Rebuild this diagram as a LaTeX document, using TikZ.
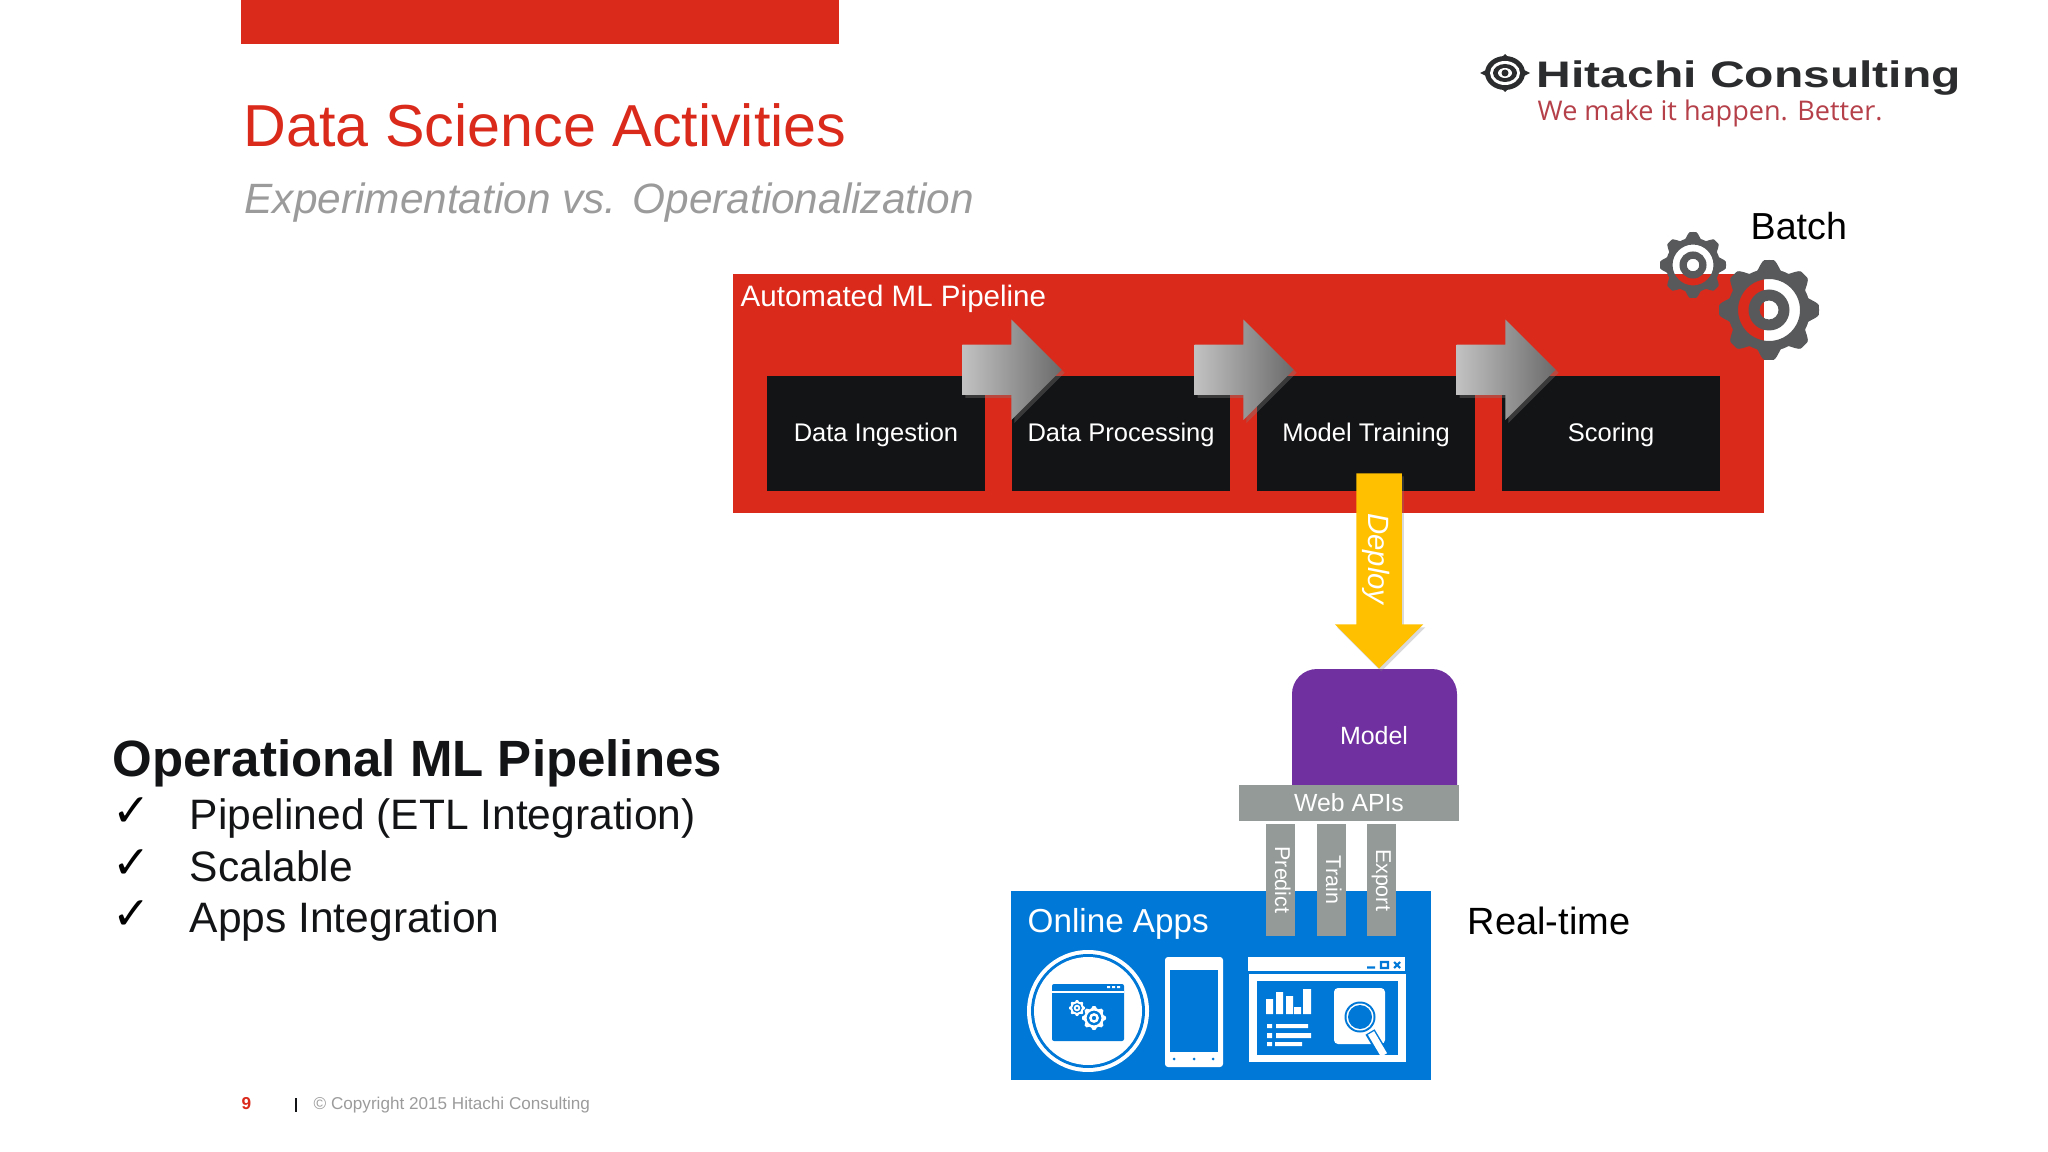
\documentclass[tikz,border=0pt]{standalone}
\usepackage{fontspec}
\setmainfont{Liberation Sans}
\newfontfamily\checkfont{DejaVu Sans}
\newfontfamily\tagfont{Open Sans}
\usepackage{xcolor}
\usepackage{tikz}
\usetikzlibrary{calc,positioning,shapes.arrows,shadows}
\definecolor{hcred}{HTML}{DA2A1C}
\definecolor{inkblack}{HTML}{131416}
\definecolor{apigrey}{HTML}{939A98}
\definecolor{geargrey}{HTML}{58595B}
\definecolor{appblue}{HTML}{0078D7}
\definecolor{deployyellow}{HTML}{FFC000}
\definecolor{modelpurple}{HTML}{7030A0}
\definecolor{softgrey}{HTML}{9B9B9B}
\definecolor{tagred}{HTML}{B5404A}
\newcommand{\fsz}[1]{\fontsize{#1}{#1}\selectfont}
\newcommand{\gearshape}[4]{%
  \fill[#4,even odd rule] plot[domain=0:360,samples=193]
    ({#1+#3*(0.91+0.09*max(-1,min(1,1.5*cos(8*\x))))*cos(\x)},
     {#2+#3*(0.91+0.09*max(-1,min(1,1.5*cos(8*\x))))*sin(\x)}) -- cycle
    (#1,#2) circle[radius=0.62*#3]
    (#1,#2) circle[radius=0.41*#3]
    (#1,#2) circle[radius=0.19*#3];
}
\tikzset{
  lab/.style={inner sep=0pt, text=black},
  whitelab/.style={inner sep=0pt, text=white},
  pipebox/.style={fill=hcred, inner sep=0pt, minimum width=10.31cm, minimum height=2.39cm},
  stagebox/.style={fill=inkblack, text=white, inner sep=0pt, font=\fsz{7.25},
    text height=0.22cm, text depth=0.06cm, minimum width=2.18cm, minimum height=1.15cm},
  flowarrow/.style={single arrow, anchor=tail, inner xsep=0pt, inner ysep=0.245cm, minimum height=0.99cm,
    single arrow head extend=0.25cm, left color=black!24,
    right color=black!58, drop shadow={shadow xshift=0.03cm, shadow yshift=-0.03cm, opacity=0.35}},
  deployarrow/.style={single arrow, shape border rotate=270, anchor=tail, inner ysep=0pt, inner xsep=0.22cm,
    fill=deployyellow, minimum height=1.95cm,
    single arrow head extend=0.215cm,
    drop shadow={shadow xshift=0.02cm, shadow yshift=-0.03cm, opacity=0.3}},
  apibar/.style={fill=apigrey, text=white, rotate=-90, inner sep=0pt, font=\fsz{6.1},
    text height=0.15cm, text depth=0.04cm, minimum width=1.12cm, minimum height=0.29cm},
}

\begin{document}
\begin{tikzpicture}[x=0.01cm,y=-0.01cm]
  \useasboundingbox (0,0) rectangle (2048,1152);
  % header
  \fill[hcred] (241,0) rectangle (839,44);
  \node[lab,anchor=base west,text=hcred,font=\fsz{16.85}] (title) at (243,147) {Data Science Activities};
  \node[lab,anchor=base west,text=softgrey,font=\fsz{12.05}\itshape] (subtitle) at (244,214) {Experimentation vs. Operationalization};
  % logo
  \fill[inkblack!90] (1505,73) ellipse[x radius=20,y radius=17];
  \fill[inkblack!90] (1480,73) -- (1490,68) -- (1490,78) -- cycle (1530,73) -- (1520,68) -- (1520,78) -- cycle
    (1505,54) -- (1499,60) -- (1511,60) -- cycle (1505,92) -- (1499,86) -- (1511,86) -- cycle;
  \fill[white] (1505,73) ellipse[x radius=15,y radius=12];
  \fill[inkblack!90] (1505,73) ellipse[x radius=12,y radius=9];
  \fill[white] (1505,73) ellipse[x radius=7,y radius=5];
  \fill[inkblack!90] (1505,73) circle[radius=3.5];
  \node[lab,anchor=base west,text=inkblack!90,font=\fsz{10.5}\bfseries,xscale=1.3] (logotext) at (1536,88) {Hitachi Consulting};
  \node[lab,anchor=base west,text=tagred,font=\fsz{7.7}\tagfont] (tagline) at (1537,121) {We make it happen. Better.};
  % pipeline
  \node[pipebox] (pipeline) at (1248.5,393.5) {};
  \node[whitelab,anchor=base west,font=\fsz{8.4}] (pipelab) at (740,306.5) {Automated ML Pipeline};
  \node[stagebox] (ingest) at (876,433.5) {Data Ingestion};
  \node[stagebox,right=0.255cm of ingest] (processing) {Data Processing};
  \node[stagebox,right=0.255cm of processing] (training) {Model Training};
  \node[stagebox,right=0.255cm of training] (scoring) {Scoring};
  \node[flowarrow] (arrowA) at ($(ingest.north east)+(-24,-5.5)$) {};
  \node[flowarrow] (arrowB) at ($(processing.north east)+(-37,-5.5)$) {};
  \node[flowarrow] (arrowC) at ($(training.north east)+(-20,-5.5)$) {};
  % batch gears
  \gearshape{1693}{265}{33}{geargrey}
  \gearshape{1769}{310}{50}{geargrey}
  \node[lab,anchor=base west,font=\fsz{10.7}] (batch) at (1750,239.5) {Batch};
  % online apps
  \node[fill=appblue,inner sep=0pt,minimum width=4.2cm,minimum height=1.89cm] (apps) at (1221,985.5) {};
  \node[whitelab,anchor=base west,font=\fsz{9.45}] (appslab) at (1027,932) {Online Apps};
  \node[lab,anchor=base west,font=\fsz{10.8}] (realtime) at (1467,934) {Real-time};
  % circle icon
  \fill[white] (1088,1011) circle[radius=61];
  \fill[appblue] (1088,1011) circle[radius=57];
  \fill[white] (1088,1011) circle[radius=54];
  \fill[appblue,rounded corners=0.02cm] (1052,984) rectangle (1124,1041);
  \draw[white,line width=0.35pt] (1052,992) -- (1124,992);
  \fill[white] (1107,986) rectangle (1110,988) (1112,986) rectangle (1115,988) (1117,986) rectangle (1120,988);
  \gearshape{1077}{1008}{8}{white}
  \gearshape{1094}{1018}{12}{white}
  % phone icon
  \fill[white,rounded corners=0.03cm] (1165,957) rectangle (1223,1067);
  \fill[appblue] (1170,970) rectangle (1218,1052);
  \fill[appblue] (1174,1059) circle[radius=1.5] (1194,1059) circle[radius=1.5] (1213,1059) circle[radius=1.5];
  % window icon
  \fill[white] (1248,957) rectangle (1405,971);
  \fill[white] (1249,974) rectangle (1406,1062);
  \fill[appblue] (1257,981) rectangle (1398,1055);
  \draw[appblue,line width=0.6pt] (1367,967.5) -- (1375,967.5) (1381,962) rectangle (1388,968)
    (1394,962) -- (1400,968) (1400,962) -- (1394,968);
  \fill[white] (1266,999) rectangle (1273,1014) (1276,992) rectangle (1283,1014) (1286,996) rectangle (1293,1014)
    (1294,1007) rectangle (1301,1014) (1303,989) rectangle (1311,1014);
  \fill[white] (1267,1024) rectangle (1272,1028) (1276,1024) rectangle (1308,1028)
    (1267,1033) rectangle (1272,1038) (1276,1033) rectangle (1311,1038)
    (1267,1042) rectangle (1272,1046) (1275,1042) rectangle (1302,1046);
  \fill[white,rounded corners=0.04cm] (1334,988) rectangle (1385,1044);
  \draw[appblue,line width=3pt] (1370,1032) -- (1382,1052);
  \fill[appblue] (1360,1017) circle[radius=15.5];
  \fill[white] (1360,1017) circle[radius=13.5];
  \fill[appblue] (1360,1017) circle[radius=12];
  \draw[white,line width=2pt] (1371,1033) -- (1384,1055);
  % model and web apis
  \fill[modelpurple] (1292,785) [rounded corners=0.25cm] -- (1292,669) -- (1457,669) [sharp corners] -- (1457,785) -- cycle;
  \node[text=white,inner sep=0pt,font=\fsz{7.1}] (model) at (1374,736) {Model};
  \node[fill=apigrey,text=white,inner sep=0pt,font=\fsz{7.05},minimum width=2.2cm,minimum height=0.36cm] (webapis) at (1349,803) {Web APIs};
  \node[apibar] (predict) at (1280.5,880) {Predict};
  \node[apibar] (trainapi) at (1331.5,880) {Train};
  \node[apibar] (exportapi) at (1381.5,880) {Export};
  % deploy
  \node[deployarrow] (deploy) at ($(training.south)+(13,-19)$) {};
  \node[whitelab,rotate=-90,font=\fsz{8.35}\itshape] (deploylab) at (1376,559) {Deploy};
  % operational list
  \node[lab,anchor=base west,text=inkblack,font=\fsz{14.5}\bfseries] (ophead) at (112,776) {Operational ML Pipelines};
  \foreach \ypos/\itemname/\itemtext in {828/itemA/{Pipelined (ETL Integration)},880/itemB/Scalable,931/itemC/Apps Integration}{
    \node[lab,anchor=base west,font=\fsz{13}\checkfont] (check\itemname) at (112,\ypos-2) {✓};
    \node[lab,anchor=base west,text=inkblack,font=\fsz{12.1}] (\itemname) at (189,\ypos+1) {\itemtext};
  }
  % footer
  \node[lab,anchor=base west,text=hcred,font=\fsz{4.9}\bfseries] (pagenum) at (241,1109) {9};
  \draw[inkblack,line width=0.5pt] (296,1098) -- (296,1112);
  \node[lab,anchor=base west,text=softgrey,font=\fsz{4.87}] (copyright) at (313,1109) {© Copyright 2015 Hitachi Consulting};
\end{tikzpicture}
\end{document}
